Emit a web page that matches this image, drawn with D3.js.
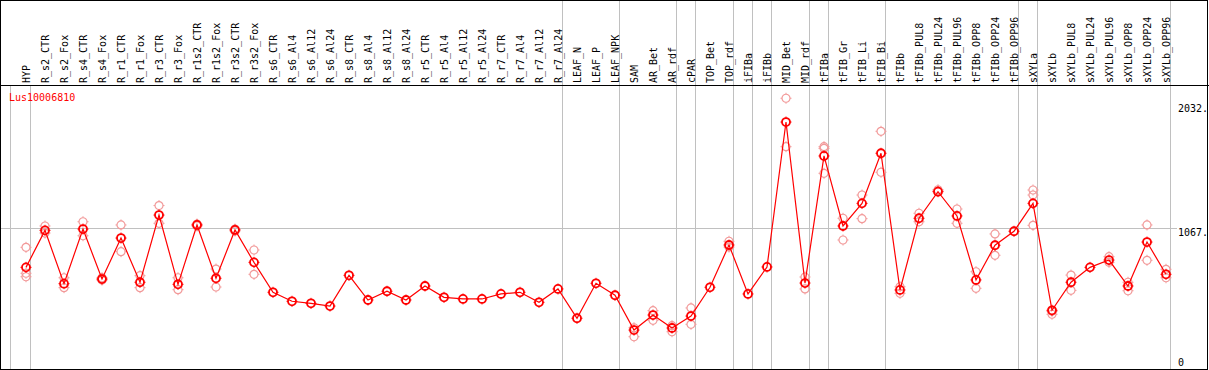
<!DOCTYPE html>
<html>
<head>
<meta charset="utf-8">
<script src="https://cdn.jsdelivr.net/npm/d3@7"></script>
<style>
  html, body { margin: 0; padding: 0; background: #fff; }
  svg { display: block; }
  text { font-family: "DejaVu Sans Mono", monospace; font-size: 10px; }
</style>
</head>
<body>
<svg id="chart" width="1209" height="370"></svg>
<script>
const title = "Lus10006810";
const categories = ["HYP","R_s2_CTR","R_s2_Fox","R_s4_CTR","R_s4_Fox","R_r1_CTR","R_r1_Fox","R_r3_CTR","R_r3_Fox","R_r1s2_CTR","R_r1s2_Fox","R_r3s2_CTR","R_r3s2_Fox","R_s6_CTR","R_s6_Al4","R_s6_Al12","R_s6_Al24","R_s8_CTR","R_s8_Al4","R_s8_Al12","R_s8_Al24","R_r5_CTR","R_r5_Al4","R_r5_Al12","R_r5_Al24","R_r7_CTR","R_r7_Al4","R_r7_Al12","R_r7_Al24","LEAF_N","LEAF_P","LEAF_NPK","SAM","AR_Bet","AR_rdf","cPAR","TOP_Bet","TOP_rdf","iFIBa","iFIBb","MID_Bet","MID_rdf","tFIBa","tFIB_Gr","tFIB_Li","tFIB_Bi","tFIBb","tFIBb_PUL8","tFIBb_PUL24","tFIBb_PUL96","tFIBb_OPP8","tFIBb_OPP24","tFIBb_OPP96","sXYLa","sXYLb","sXYLb_PUL8","sXYLb_PUL24","sXYLb_PUL96","sXYLb_OPP8","sXYLb_OPP24","sXYLb_OPP96"];
const means = [763,1051,636,1061,672,991,647,1170,631,1093,678,1054,802,569,499,483,462,701,509,577,509,618,530,517,517,556,569,491,595,367,639,546,275,392,291,384,608,937,556,766,1894,641,1630,1085,1261,1651,587,1145,1352,1163,665,935,1044,1261,429,647,763,820,618,960,709];
const replicates = [
  [919,717,690],[1085,1030],[682,605],[1118,1009],[682,664],[1093,885],[698,605],[1244,1106],[682,589],[1100,1085],[750,610],[1061,1046],[898,709],
  [],[],[],[],[],[],[],[],[],[],[],[],[],[],[],[],
  [],[],[],[293,223],[426,351],[309,262],[447,320],[],[966,921],[],[],[2079,1702],[688,595],
  [1702,1689,1495],[1145,976],[1326,1142],[1822,1503],[612,561],[1184,1118],[1367,1357],[1217,1106],[729,600],[1023,857],[],
  [1365,1326,1090],[421,398],[703,584],[],[846,802],[647,581],[1093,818],[748,682]
];
const tickValues = [2032, 1067, 0];
const tickLabels = ["2032.", "1067.", "0"];
const gridValues = [1067];
// separators drawn after these category indices (full height) and plot-only ones
const groupEnds = [28,31,34,35,37,38,39,41,42,45,52,53,60];
const plotOnlySeps = [-1.05, 0];

const W = 1209, H = 370, headerH = 85;
const svg = d3.select("#chart");
svg.append("rect").attr("width", W).attr("height", H).attr("fill", "#fff");

const x = d3.scaleLinear().domain([0, categories.length - 1]).range([26, 1166]);
const y = d3.scaleLinear().domain([0, 2032]).range([365.4, 104.3]);

// grid lines
const grid = svg.append("g").attr("stroke", "#c0c0c0").attr("stroke-width", 1);
grid.selectAll("line.h").data(gridValues).join("line")
  .attr("x1", 1).attr("x2", 1177)
  .attr("y1", d => Math.floor(y(d)) + 0.5).attr("y2", d => Math.floor(y(d)) + 0.5);
grid.selectAll("line.v").data(groupEnds).join("line")
  .attr("x1", d => Math.floor(x(d) + 4.5) + 0.5).attr("x2", d => Math.floor(x(d) + 4.5) + 0.5)
  .attr("y1", 0).attr("y2", H);
grid.selectAll("line.p").data(plotOnlySeps).join("line")
  .attr("x1", d => Math.floor(x(d) + 4.5) + 0.5).attr("x2", d => Math.floor(x(d) + 4.5) + 0.5)
  .attr("y1", headerH).attr("y2", H);

// borders
const border = svg.append("g").attr("stroke", "#000").attr("stroke-width", 1).attr("fill", "none");
border.append("rect").attr("x", 0.5).attr("y", 0.5).attr("width", 1207).attr("height", 369);
border.append("line").attr("x1", 0).attr("x2", W).attr("y1", headerH + 0.5).attr("y2", headerH + 0.5);

// header labels
svg.append("g").selectAll("text").data(categories).join("text")
  .attr("transform", (d, i) => `translate(${x(i) + 3.5},83) rotate(-90)`)
  .attr("text-anchor", "start")
  .attr("fill", "#000")
  .text(d => d);

// title
svg.append("text").attr("x", 9).attr("y", 101).attr("fill", "#ff0000").text(title);

// right axis
const axis = d3.axisRight(y).tickValues(tickValues).tickSize(0).tickPadding(0)
  .tickFormat((d, i) => tickLabels[i]);
const ag = svg.append("g").attr("transform", "translate(1178,0)").call(axis);
ag.select(".domain").remove();
ag.selectAll("text")
  .attr("font-family", "DejaVu Sans Mono, monospace").attr("font-size", 10)
  .attr("fill", "#000").attr("x", 0)
  .attr("dy", d => d === 0 ? "0" : "7");
ag.selectAll(".tick text").attr("dominant-baseline", "auto");

// replicate points
const repData = [];
replicates.forEach((arr, i) => arr.forEach(v => repData.push({ i, v })));
function marker(g, color, sw, r) {
  g.append("circle").attr("r", r).attr("fill", "none").attr("stroke", color).attr("stroke-width", sw);
  const n = r + 1.5;
  [[0, -n, 0, -r], [0, r, 0, n], [-n, 0, -r, 0], [r, 0, n, 0]].forEach(s =>
    g.append("line").attr("x1", s[0]).attr("y1", s[1]).attr("x2", s[2]).attr("y2", s[3])
      .attr("stroke", color).attr("stroke-width", 1));
}
svg.append("g").selectAll("g").data(repData).join("g")
  .attr("transform", d => `translate(${x(d.i)},${y(d.v)})`)
  .each(function () { marker(d3.select(this), "#f29a9a", 1.2, 4); });

// mean line
const line = d3.line().x((d, i) => x(i)).y(d => y(d));
svg.append("path").datum(means).attr("d", line)
  .attr("fill", "none").attr("stroke", "#ff0000").attr("stroke-width", 1.2);

// mean points
svg.append("g").selectAll("g").data(means).join("g")
  .attr("transform", (d, i) => `translate(${x(i)},${y(d)})`)
  .each(function () { marker(d3.select(this), "#ff0000", 1.8, 4); });
</script>
</body>
</html>
